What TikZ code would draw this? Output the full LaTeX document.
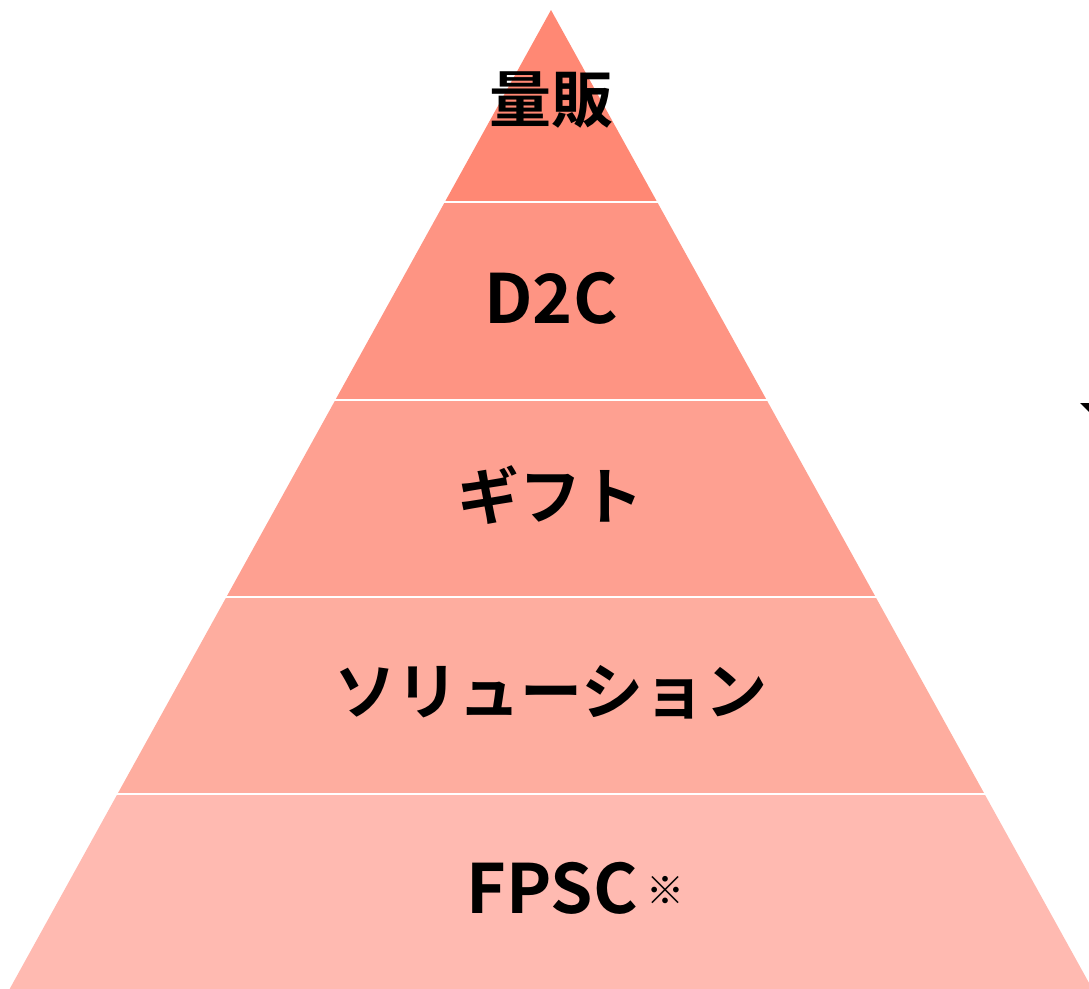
\documentclass[tikz,border=0pt]{standalone}
\usepackage{fontspec}
\setmainfont{Noto Sans CJK JP}[BoldFont={Noto Sans CJK JP Bold}]
\newfontfamily\jpb{Noto Sans CJK JP Bold}
\newfontfamily\jpr{Noto Sans CJK JP}
\definecolor{c1}{HTML}{FF8874}
\definecolor{c2}{HTML}{FE9483}
\definecolor{c3}{HTML}{FEA091}
\definecolor{c4}{HTML}{FEAD9F}
\definecolor{c5}{HTML}{FFBAB1}
\tikzset{
  lbl/.style={font=\jpb\fontsize{62}{62}\selectfont, inner sep=0pt, text=black},
  lat/.style={font=\jpb\fontsize{68}{68}\selectfont, inner sep=0pt, text=black},
  note/.style={font=\jpr\fontsize{38}{38}\selectfont, inner sep=0pt, text=black},
  band/.style={draw=white, line width=2.5pt}
}
\begin{document}
\begin{tikzpicture}[x=1pt,y=-1pt]
\useasboundingbox (0,0) rectangle (1089,988);
\pgfmathsetmacro{\s}{0.553}
\foreach \top/\bot/\c in {10/202/c1, 202/400/c2, 400/597/c3, 597/794/c4, 794/1000/c5}{
  \pgfmathsetmacro{\wt}{(\top-10)*\s}
  \pgfmathsetmacro{\wb}{(\bot-10)*\s}
  \fill[\c] (551-\wt,\top) -- (551+\wt,\top) -- (551+\wb,\bot) -- (551-\wb,\bot) -- cycle;
}
\foreach \y in {202,400,597,794}{
  \pgfmathsetmacro{\w}{(\y-10)*\s+2}
  \draw[band] (551-\w,\y) -- (551+\w,\y);
}
\node[lbl] (t1) at (551,100) {量販};
\node[lat] (t2) at (551,298) {D2C};
\node[lbl] (t3) at (550,495) {ギフト};
\node[lbl] (t4) at (551,692) {ソリューション};
\node[lat] (t5) at (552,888) {FPSC};
\node[note, anchor=west] (t6) at ([xshift=8pt,yshift=-2pt]t5.east) {※};
\fill[black] (1080,403) -- (1089,403) -- (1089,412) -- cycle;
\end{tikzpicture}
\end{document}
